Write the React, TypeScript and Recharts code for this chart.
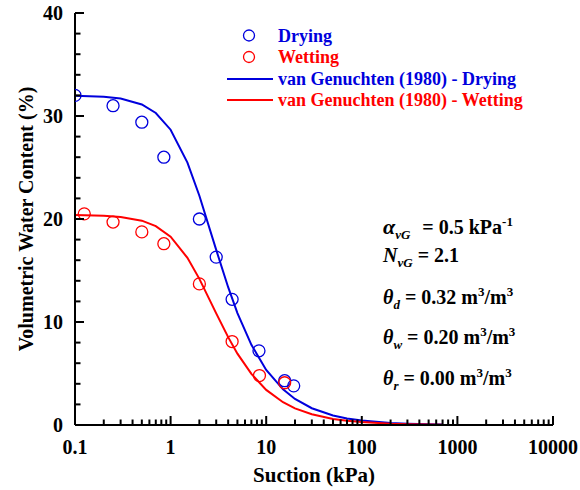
import React from 'react';
import { ComposedChart, XAxis, YAxis, Line, Scatter, Customized } from 'recharts';

const FONT = "'Liberation Serif', 'Times New Roman', Tinos, Times, serif";
const BLUE = '#0000dd';
const RED = '#ff0000';

// Measured points
const dryingSuction = [0.1, 0.25, 0.5, 0.85, 2, 3, 4.4, 8.4, 15.6, 19.4];
const dryingTheta = [32.0, 31.0, 29.4, 26.0, 20.0, 16.3, 12.2, 7.2, 4.3, 3.8];
const wettingSuction = [0.125, 0.25, 0.5, 0.85, 2, 4.4, 8.5, 15.6];
const wettingTheta = [20.5, 19.7, 18.75, 17.6, 13.7, 8.1, 4.8, 4.1];

// Fitted curves
const fitSuction = [0.1, 0.2, 0.3, 0.5, 0.7, 1, 1.5, 2, 3, 4, 5, 7, 10, 15, 20, 30, 50, 70, 100, 200, 300, 500, 700];
const fitDrying = [31.97, 31.87, 31.69, 31.12, 30.29, 28.67, 25.47, 22.26, 17.0, 13.38, 10.87, 7.78, 5.35, 3.46, 2.53, 1.63, 0.93, 0.64, 0.43, 0.2, 0.13, 0.07, 0.05];
const fitWetting = [20.38, 20.32, 20.2, 19.84, 19.31, 18.28, 16.23, 14.19, 10.84, 8.53, 6.93, 4.96, 3.41, 2.21, 1.61, 1.04, 0.59, 0.41, 0.28, 0.13, 0.08, 0.05, 0.03];

const xDecades = [0.1, 1, 10, 100, 1000];
const xMajorLabels = ['0.1', '1', '10', '100', '1000', '10000'];
const yMajor = [0, 10, 20, 30, 40];
const yMinorStep = 2;

const legendLabels = ['Drying', 'Wetting', 'van Genuchten (1980) - Drying', 'van Genuchten (1980) - Wetting'];

const xTicks: number[] = [];
xDecades.forEach((d) => {
  for (let k = 1; k <= 9; k++) xTicks.push(+(d * k).toPrecision(6));
});
xTicks.push(10000);
const yTicks: number[] = [];
for (let v = 0; v <= 40; v += yMinorStep) yTicks.push(v);

const zip = (xs: number[], ys: number[]) => xs.map((s, i) => ({ s, v: ys[i] }));
const dryingData = zip(dryingSuction, dryingTheta);
const wettingData = zip(wettingSuction, wettingTheta);
const fitDryData = zip(fitSuction, fitDrying);
const fitWetData = zip(fitSuction, fitWetting);

const isMajorX = (v: number) => Math.abs(Math.log10(v) - Math.round(Math.log10(v))) < 1e-6;
const isMajorY = (v: number) => yMajor.includes(v);
const MAJ = 9;
const MIN = 5.5;
const TW = 2;

const txt = (size: number, extra: any = {}) => ({
  style: { fontFamily: FONT, fontWeight: 'bold' as const, fontSize: size, ...extra },
});

const BottomTick = (p: any) => {
  const v = p.payload.value;
  const maj = isMajorX(v);
  const idx = Math.round(Math.log10(v)) + 1;
  return (
    <g>
      <line x1={p.x} x2={p.x} y1={p.y} y2={p.y - (maj ? MAJ : MIN)} stroke="#000" strokeWidth={TW} />
      {maj && (
        <text x={p.x} y={p.y + 29} textAnchor="middle" fill="#000" {...txt(20)}>
          {xMajorLabels[idx]}
        </text>
      )}
    </g>
  );
};
const TopTick = (p: any) => {
  const maj = isMajorX(p.payload.value);
  return <line x1={p.x} x2={p.x} y1={p.y} y2={p.y + (maj ? MAJ : MIN)} stroke="#000" strokeWidth={TW} />;
};
const LeftTick = (p: any) => {
  const v = p.payload.value;
  const maj = isMajorY(v);
  return (
    <g>
      <line x1={p.x} x2={p.x + (maj ? MAJ : MIN)} y1={p.y} y2={p.y} stroke="#000" strokeWidth={TW} />
      {maj && (
        <text x={p.x - 12} y={p.y + 7} textAnchor="end" fill="#000" {...txt(20)}>
          {v}
        </text>
      )}
    </g>
  );
};
const RightTick = (p: any) => {
  const maj = isMajorY(p.payload.value);
  return <line x1={p.x} x2={p.x - (maj ? MAJ : MIN)} y1={p.y} y2={p.y} stroke="#000" strokeWidth={TW} />;
};

const circleShape = (color: string) => (p: any) => (
  <circle cx={p.cx} cy={p.cy} r={6} fill="none" stroke={color} strokeWidth={1.3} />
);

const Overlay = () => {
  const rows = [35.5, 57, 79, 100];
  const colors = [BLUE, RED, BLUE, RED];
  const sub = 13;
  const ax = 383;
  return (
    <g>
      {rows.map((y, i) => (
        <g key={i}>
          {i < 2 ? (
            <circle cx={249} cy={y} r={5.5} fill="none" stroke={colors[i]} strokeWidth={1.3} />
          ) : (
            <line x1={227} x2={273} y1={y} y2={y} stroke={colors[i]} strokeWidth={2} />
          )}
          <text x={278} y={y + 6} fill={colors[i]} {...txt(18)}>
            {legendLabels[i]}
          </text>
        </g>
      ))}
      <text x={ax} y={234} fill="#000" {...txt(20)}>
        <tspan style={{ fontStyle: 'italic', fontSize: 22 }}>α</tspan>
        <tspan style={{ fontStyle: 'italic', fontSize: sub }} dy={5}>vG</tspan>
        <tspan dy={-5} dx={7}>{' = 0.5 kPa'}</tspan>
        <tspan style={{ fontSize: sub }} dy={-8}>-1</tspan>
      </text>
      <text x={ax} y={262} fill="#000" {...txt(20)}>
        <tspan style={{ fontStyle: 'italic' }}>N</tspan>
        <tspan style={{ fontStyle: 'italic', fontSize: sub }} dy={5}>vG</tspan>
        <tspan dy={-5}>{' = 2.1'}</tspan>
      </text>
      {[
        { s: 'd', v: '0.32', y: 304 },
        { s: 'w', v: '0.20', y: 344 },
        { s: 'r', v: '0.00', y: 385 },
      ].map((r) => (
        <text key={r.s} x={ax} y={r.y} fill="#000" {...txt(20)}>
          <tspan style={{ fontStyle: 'italic' }}>θ</tspan>
          <tspan style={{ fontStyle: 'italic', fontSize: sub }} dy={5}>{r.s}</tspan>
          <tspan dy={-5}>{` = ${r.v} m`}</tspan>
          <tspan style={{ fontSize: sub }} dy={-8}>3</tspan>
          <tspan dy={8}>/m</tspan>
          <tspan style={{ fontSize: sub }} dy={-8}>3</tspan>
        </text>
      ))}
    </g>
  );
};

const YLabel = (props: any) => {
  const vb = props.viewBox;
  const x = vb.x + 18;
  const y = vb.y + vb.height / 2;
  return (
    <text x={x} y={y} textAnchor="middle" fill="#000" transform={`rotate(-90, ${x}, ${y})`} {...txt(20)}>
      Volumetric Water Content (%)
    </text>
  );
};
const XLabel = (props: any) => {
  const vb = props.viewBox;
  return (
    <text x={vb.x + vb.width / 2} y={vb.y + 57} textAnchor="middle" fill="#000" {...txt(21)}>
      Suction (kPa)
    </text>
  );
};

export default function App() {
  return (
    <div style={{ position: 'absolute', left: 0, top: 0, width: 580, height: 490 }}>
      <ComposedChart width={580} height={490} margin={{ top: 13, right: 27, bottom: 25, left: 15 }} style={{ fontFamily: FONT }}>
        <XAxis
          xAxisId={0}
          dataKey="s"
          type="number"
          scale="log"
          domain={[0.1, 10000]}
          allowDataOverflow
          ticks={xTicks}
          interval={0}
          tickSize={0}
          tickMargin={0}
          tickLine={false}
          tick={BottomTick}
          axisLine={{ stroke: '#000', strokeWidth: 2 }}
          height={40}
          label={<XLabel />}
        />
        <XAxis
          xAxisId="top"
          orientation="top"
          dataKey="s"
          type="number"
          scale="log"
          domain={[0.1, 10000]}
          allowDataOverflow
          ticks={xTicks}
          interval={0}
          tickSize={0}
          tickMargin={0}
          tickLine={false}
          tick={TopTick}
          axisLine={{ stroke: '#000', strokeWidth: 2 }}
          height={0}
        />
        <YAxis
          yAxisId={0}
          dataKey="v"
          type="number"
          domain={[0, 40]}
          allowDataOverflow
          ticks={yTicks}
          interval={0}
          tickSize={0}
          tickMargin={0}
          tickLine={false}
          tick={LeftTick}
          axisLine={{ stroke: '#000', strokeWidth: 2 }}
          width={60}
          label={<YLabel />}
        />
        <YAxis
          yAxisId="right"
          orientation="right"
          dataKey="v"
          type="number"
          domain={[0, 40]}
          allowDataOverflow
          ticks={yTicks}
          interval={0}
          tickSize={0}
          tickMargin={0}
          tickLine={false}
          tick={RightTick}
          axisLine={{ stroke: '#000', strokeWidth: 2 }}
          width={0}
        />
        <Line data={fitDryData} dataKey="v" stroke={BLUE} strokeWidth={2} dot={false} isAnimationActive={false} type="linear" />
        <Line data={fitWetData} dataKey="v" stroke={RED} strokeWidth={2} dot={false} isAnimationActive={false} type="linear" />
        <Scatter data={dryingData} dataKey="v" shape={circleShape(BLUE)} isAnimationActive={false} />
        <Scatter data={wettingData} dataKey="v" shape={circleShape(RED)} isAnimationActive={false} />
        <Customized component={Overlay} />
      </ComposedChart>
    </div>
  );
}
